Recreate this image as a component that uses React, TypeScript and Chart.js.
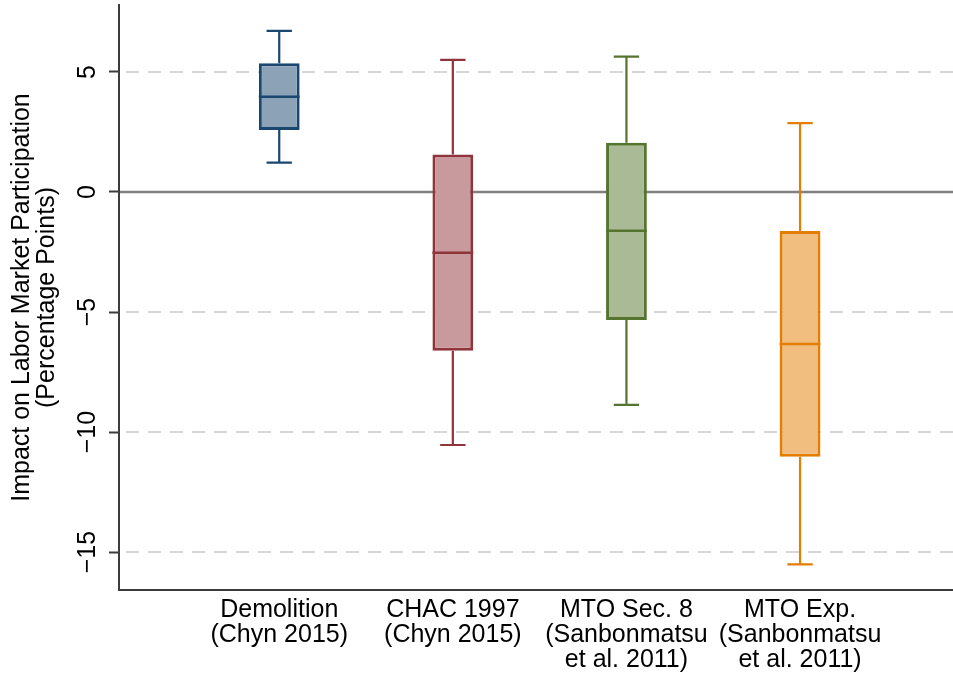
import React, { useEffect, useRef } from "react";
import { Chart, registerables } from "chart.js";

Chart.register(...registerables);

const categories: string[][] = [
  ["Demolition", "(Chyn 2015)"],
  ["CHAC 1997", "(Chyn 2015)"],
  ["MTO Sec. 8", "(Sanbonmatsu", "et al. 2011)"],
  ["MTO Exp.", "(Sanbonmatsu", "et al. 2011)"],
];
const positions = [1, 2, 3, 4];
const whiskerLow = [1.22, -10.54, -8.87, -15.51];
const q1 = [2.58, -6.61, -5.33, -11.03];
const median = [3.97, -2.53, -1.61, -6.33];
const q3 = [5.36, 1.56, 2.05, -1.62];
const whiskerHigh = [6.71, 5.5, 5.64, 2.87];
const yTicks = [-15, -10, -5, 0, 5];

const strokeColors = ["#1a476f", "#90353b", "#55752f", "#e37e00"];
const fillColors = ["#8ca3b7", "#c89a9d", "#aaba97", "#f1be7f"];

const yTitle = ["Impact on Labor Market Participation", "(Percentage Points)"];
const FONT = "'Liberation Sans', Arial, Helvetica, sans-serif";

const fmt = (v: number) => (v < 0 ? "\u2212" + Math.abs(v) : String(v));

const boxPlugin = {
  id: "boxExtras",
  beforeDatasetsDraw(chart: any) {
    const { ctx, chartArea, scales } = chart;
    const y = scales.y;
    ctx.save();
    ctx.lineWidth = 2;
    for (const v of yTicks) {
      const py = Math.round(y.getPixelForValue(v));
      ctx.beginPath();
      if (v === 0) {
        ctx.setLineDash([]);
        ctx.strokeStyle = "#808080";
        ctx.lineWidth = 2.5;
      } else {
        ctx.setLineDash([13, 9]);
        ctx.lineDashOffset = -6;
        ctx.strokeStyle = "#d6d6d6";
        ctx.lineWidth = 2;
      }
      ctx.moveTo(chartArea.left + 1, py);
      ctx.lineTo(chartArea.right, py);
      ctx.stroke();
    }
    ctx.setLineDash([]);
    const x = scales.x;
    const unit = x.getPixelForValue(2) - x.getPixelForValue(1);
    const capHalf = unit * 0.073;
    for (let i = 0; i < positions.length; i++) {
      const px = x.getPixelForValue(positions[i]);
      ctx.strokeStyle = strokeColors[i];
      ctx.lineWidth = 2.2;
      const yl = y.getPixelForValue(whiskerLow[i]);
      const yh = y.getPixelForValue(whiskerHigh[i]);
      const y1 = y.getPixelForValue(q1[i]);
      const y3 = y.getPixelForValue(q3[i]);
      ctx.beginPath();
      ctx.moveTo(px, yh);
      ctx.lineTo(px, y3);
      ctx.moveTo(px, y1);
      ctx.lineTo(px, yl);
      ctx.moveTo(px - capHalf, yh);
      ctx.lineTo(px + capHalf, yh);
      ctx.moveTo(px - capHalf, yl);
      ctx.lineTo(px + capHalf, yl);
      ctx.stroke();
    }
    ctx.restore();
  },
  afterDatasetsDraw(chart: any) {
    const { ctx, scales } = chart;
    const x = scales.x;
    const y = scales.y;
    const meta = chart.getDatasetMeta(0);
    ctx.save();
    for (let i = 0; i < positions.length; i++) {
      const bar = meta.data[i];
      const half = bar.width / 2;
      const px = x.getPixelForValue(positions[i]);
      const py = y.getPixelForValue(median[i]);
      ctx.strokeStyle = strokeColors[i];
      ctx.lineWidth = 2.5;
      ctx.beginPath();
      ctx.moveTo(px - half, py);
      ctx.lineTo(px + half, py);
      ctx.stroke();
    }
    ctx.fillStyle = "#000";
    ctx.font = `25px ${FONT}`;
    ctx.textAlign = "center";
    ctx.textBaseline = "middle";
    for (const v of yTicks) {
      const py = y.getPixelForValue(v);
      ctx.save();
      ctx.translate(y.right - 31, py);
      ctx.rotate(-Math.PI / 2);
      ctx.fillText(fmt(v), 0, 0);
      ctx.restore();
    }
    ctx.restore();
  },
};

export default function App() {
  const ref = useRef<HTMLCanvasElement | null>(null);
  useEffect(() => {
    if (!ref.current) return;
    const chart = new Chart(ref.current, {
      type: "bar",
      data: {
        datasets: [
          {
            data: positions.map((p, i) => ({ x: p, y: [q1[i], q3[i]] })) as any,
            backgroundColor: fillColors,
            borderColor: strokeColors,
            borderWidth: 3,
            borderSkipped: false,
            categoryPercentage: 1,
            barPercentage: 0.235,
          },
        ],
      },
      options: {
        animation: false,
        responsive: false,
        devicePixelRatio: 1,
        layout: { padding: { top: 5, right: 0, left: 0, bottom: 0 } },
        plugins: { legend: { display: false }, tooltip: { enabled: false } },
        scales: {
          x: {
            type: "linear",
            offset: false,
            min: 0.077,
            max: 4.881,
            afterBuildTicks: (s: any) => {
              s.ticks = positions.map((v) => ({ value: v }));
            },
            afterFit: (s: any) => {
              s.height = 86;
            },
            grid: { display: false, drawTicks: false, offset: false },
            border: { display: true, color: "#3c3c3c", width: 2 },
            ticks: {
              autoSkip: false,
              maxRotation: 0,
              minRotation: 0,
              padding: 8,
              color: "#000",
              font: { family: FONT, size: 25, lineHeight: 1.0 },
              callback: (v: any) => {
                const idx = positions.indexOf(Number(v));
                return idx >= 0 ? categories[idx] : "";
              },
            },
          },
          y: {
            type: "linear",
            min: -16.58,
            max: 7.79,
            afterBuildTicks: (s: any) => {
              s.ticks = yTicks.map((v) => ({ value: v }));
            },
            afterFit: (s: any) => {
              s.width = 119;
            },
            grid: {
              drawOnChartArea: false,
              drawTicks: true,
              tickLength: 10,
              tickColor: "#3c3c3c",
              tickWidth: 2,
            },
            border: { display: true, color: "#3c3c3c", width: 2 },
            ticks: { display: false },
            title: {
              display: true,
              text: yTitle,
              color: "#000",
              font: { family: FONT, size: 25, lineHeight: 1.0 },
              padding: { top: 10, bottom: 0 },
            },
          },
        },
      },
      plugins: [boxPlugin],
    });
    return () => chart.destroy();
  }, []);
  return (
    <div style={{ position: "fixed", left: 0, top: 0, width: 953, height: 676, background: "#fff" }}>
      <canvas ref={ref} width={953} height={676} style={{ width: 953, height: 676, display: "block" }} />
    </div>
  );
}
